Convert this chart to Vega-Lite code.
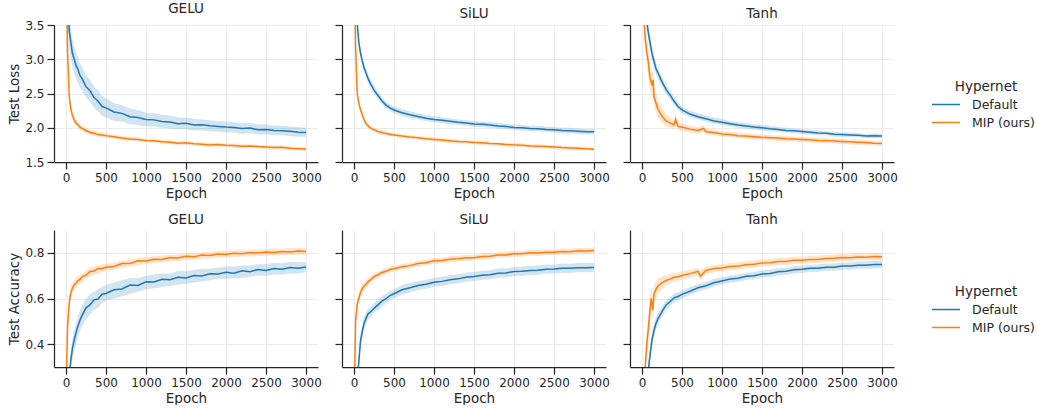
{
"$schema":"https://vega.github.io/schema/vega-lite/v6.json",
"padding":{"left":7,"top":1,"right":0,"bottom":0},
"background":"white",
"config":{
 "view":{"stroke":null},
 "font":"DejaVu Sans",
 "title":{"font":"DejaVu Sans","fontSize":13.5,"fontWeight":"normal","color":"#262626","offset":4},
 "axis":{"labelFont":"DejaVu Sans","titleFont":"DejaVu Sans","labelFontSize":12,"titleFontSize":13.5,"titleFontWeight":"normal","labelColor":"#262626","titleColor":"#262626","domainColor":"#262626","tickColor":"#262626","domainWidth":1.25,"tickWidth":1.25,"tickSize":7,"labelPadding":3,"titlePadding":3,"gridColor":"#ebebeb","gridWidth":1},
 "legend":{"titleFont":"DejaVu Sans","labelFont":"DejaVu Sans","titleFontSize":13.5,"titleFontWeight":"normal","labelFontSize":12.5,"titleColor":"#262626","labelColor":"#262626","symbolType":"M-2,0H2","symbolSize":196,"symbolStrokeWidth":1.5,"titleAnchor":"middle","labelOffset":18,"rowPadding":3,"titlePadding":3}
},
"datasets":{
"gl":[
{"h":"Default","e":0,"y":5.0,"l":4.7,"u":5.3},{"h":"Default","e":20,"y":3.9,"l":3.6,"u":4.2},{"h":"Default","e":40,"y":3.42,"l":3.15,"u":3.66},{"h":"Default","e":60,"y":3.25,"l":3.02,"u":3.47},{"h":"Default","e":80,"y":3.09,"l":2.88,"u":3.3},{"h":"Default","e":100,"y":3.01,"l":2.81,"u":3.2},{"h":"Default","e":125,"y":2.91,"l":2.72,"u":3.1},{"h":"Default","e":150,"y":2.85,"l":2.66,"u":3.04},{"h":"Default","e":175,"y":2.76,"l":2.58,"u":2.94},{"h":"Default","e":200,"y":2.72,"l":2.54,"u":2.9},{"h":"Default","e":250,"y":2.6,"l":2.44,"u":2.77},{"h":"Default","e":300,"y":2.54,"l":2.38,"u":2.7},{"h":"Default","e":350,"y":2.44,"l":2.29,"u":2.6},{"h":"Default","e":400,"y":2.39,"l":2.24,"u":2.55},{"h":"Default","e":450,"y":2.31,"l":2.17,"u":2.46},{"h":"Default","e":500,"y":2.29,"l":2.15,"u":2.43},{"h":"Default","e":600,"y":2.23,"l":2.1,"u":2.36},{"h":"Default","e":700,"y":2.21,"l":2.09,"u":2.33},{"h":"Default","e":800,"y":2.16,"l":2.05,"u":2.28},{"h":"Default","e":900,"y":2.15,"l":2.04,"u":2.26},{"h":"Default","e":1000,"y":2.12,"l":2.02,"u":2.22},{"h":"Default","e":1100,"y":2.115,"l":2.02,"u":2.21},{"h":"Default","e":1200,"y":2.09,"l":2.0,"u":2.19},{"h":"Default","e":1300,"y":2.085,"l":1.99,"u":2.18},{"h":"Default","e":1400,"y":2.06,"l":1.98,"u":2.15},{"h":"Default","e":1500,"y":2.065,"l":1.98,"u":2.15},{"h":"Default","e":1600,"y":2.04,"l":1.96,"u":2.13},{"h":"Default","e":1700,"y":2.045,"l":1.96,"u":2.12},{"h":"Default","e":1800,"y":2.03,"l":1.95,"u":2.11},{"h":"Default","e":1900,"y":2.02,"l":1.94,"u":2.1},{"h":"Default","e":2000,"y":2.01,"l":1.93,"u":2.09},{"h":"Default","e":2100,"y":2.005,"l":1.93,"u":2.08},{"h":"Default","e":2200,"y":1.99,"l":1.91,"u":2.07},{"h":"Default","e":2300,"y":1.995,"l":1.92,"u":2.07},{"h":"Default","e":2400,"y":1.97,"l":1.9,"u":2.05},{"h":"Default","e":2500,"y":1.975,"l":1.9,"u":2.05},{"h":"Default","e":2600,"y":1.96,"l":1.89,"u":2.03},{"h":"Default","e":2700,"y":1.955,"l":1.89,"u":2.03},{"h":"Default","e":2800,"y":1.95,"l":1.88,"u":2.02},{"h":"Default","e":2900,"y":1.935,"l":1.87,"u":2.01},{"h":"Default","e":3000,"y":1.93,"l":1.87,"u":2.0},
{"h":"MIP (ours)","e":0,"y":4.5,"l":4.4,"u":4.6},{"h":"MIP (ours)","e":20,"y":3.1,"l":3.0,"u":3.2},{"h":"MIP (ours)","e":40,"y":2.46,"l":2.38,"u":2.54},{"h":"MIP (ours)","e":60,"y":2.28,"l":2.22,"u":2.35},{"h":"MIP (ours)","e":80,"y":2.18,"l":2.13,"u":2.24},{"h":"MIP (ours)","e":100,"y":2.12,"l":2.07,"u":2.17},{"h":"MIP (ours)","e":125,"y":2.07,"l":2.03,"u":2.12},{"h":"MIP (ours)","e":150,"y":2.04,"l":2.0,"u":2.09},{"h":"MIP (ours)","e":175,"y":2.01,"l":1.97,"u":2.05},{"h":"MIP (ours)","e":200,"y":1.99,"l":1.95,"u":2.03},{"h":"MIP (ours)","e":250,"y":1.96,"l":1.92,"u":2.0},{"h":"MIP (ours)","e":300,"y":1.935,"l":1.9,"u":1.97},{"h":"MIP (ours)","e":350,"y":1.92,"l":1.88,"u":1.96},{"h":"MIP (ours)","e":400,"y":1.9,"l":1.87,"u":1.94},{"h":"MIP (ours)","e":450,"y":1.895,"l":1.86,"u":1.93},{"h":"MIP (ours)","e":500,"y":1.885,"l":1.85,"u":1.92},{"h":"MIP (ours)","e":600,"y":1.87,"l":1.84,"u":1.9},{"h":"MIP (ours)","e":700,"y":1.85,"l":1.82,"u":1.88},{"h":"MIP (ours)","e":800,"y":1.835,"l":1.81,"u":1.87},{"h":"MIP (ours)","e":900,"y":1.83,"l":1.8,"u":1.86},{"h":"MIP (ours)","e":1000,"y":1.815,"l":1.79,"u":1.84},{"h":"MIP (ours)","e":1100,"y":1.81,"l":1.78,"u":1.84},{"h":"MIP (ours)","e":1200,"y":1.795,"l":1.77,"u":1.82},{"h":"MIP (ours)","e":1300,"y":1.79,"l":1.76,"u":1.82},{"h":"MIP (ours)","e":1400,"y":1.775,"l":1.75,"u":1.8},{"h":"MIP (ours)","e":1500,"y":1.78,"l":1.75,"u":1.81},{"h":"MIP (ours)","e":1600,"y":1.765,"l":1.74,"u":1.79},{"h":"MIP (ours)","e":1700,"y":1.76,"l":1.73,"u":1.79},{"h":"MIP (ours)","e":1800,"y":1.75,"l":1.72,"u":1.78},{"h":"MIP (ours)","e":1900,"y":1.755,"l":1.73,"u":1.78},{"h":"MIP (ours)","e":2000,"y":1.745,"l":1.72,"u":1.77},{"h":"MIP (ours)","e":2100,"y":1.74,"l":1.71,"u":1.77},{"h":"MIP (ours)","e":2200,"y":1.73,"l":1.7,"u":1.76},{"h":"MIP (ours)","e":2300,"y":1.735,"l":1.71,"u":1.76},{"h":"MIP (ours)","e":2400,"y":1.725,"l":1.7,"u":1.75},{"h":"MIP (ours)","e":2500,"y":1.72,"l":1.69,"u":1.75},{"h":"MIP (ours)","e":2600,"y":1.71,"l":1.68,"u":1.74},{"h":"MIP (ours)","e":2700,"y":1.715,"l":1.69,"u":1.74},{"h":"MIP (ours)","e":2800,"y":1.7,"l":1.67,"u":1.73},{"h":"MIP (ours)","e":2900,"y":1.695,"l":1.67,"u":1.72},{"h":"MIP (ours)","e":3000,"y":1.69,"l":1.66,"u":1.72}
],
"sl":[
{"h":"Default","e":0,"y":5.0,"l":4.9,"u":5.1},{"h":"Default","e":20,"y":4.2,"l":4.1,"u":4.3},{"h":"Default","e":40,"y":3.52,"l":3.45,"u":3.6},{"h":"Default","e":60,"y":3.25,"l":3.18,"u":3.32},{"h":"Default","e":80,"y":3.1,"l":3.03,"u":3.17},{"h":"Default","e":100,"y":2.99,"l":2.93,"u":3.06},{"h":"Default","e":125,"y":2.88,"l":2.82,"u":2.95},{"h":"Default","e":150,"y":2.8,"l":2.74,"u":2.86},{"h":"Default","e":175,"y":2.72,"l":2.66,"u":2.78},{"h":"Default","e":200,"y":2.66,"l":2.6,"u":2.72},{"h":"Default","e":250,"y":2.55,"l":2.5,"u":2.61},{"h":"Default","e":300,"y":2.47,"l":2.42,"u":2.53},{"h":"Default","e":350,"y":2.39,"l":2.34,"u":2.45},{"h":"Default","e":400,"y":2.33,"l":2.28,"u":2.38},{"h":"Default","e":450,"y":2.29,"l":2.24,"u":2.34},{"h":"Default","e":500,"y":2.26,"l":2.21,"u":2.31},{"h":"Default","e":600,"y":2.22,"l":2.17,"u":2.27},{"h":"Default","e":700,"y":2.19,"l":2.14,"u":2.24},{"h":"Default","e":800,"y":2.165,"l":2.12,"u":2.21},{"h":"Default","e":900,"y":2.14,"l":2.1,"u":2.19},{"h":"Default","e":1000,"y":2.12,"l":2.08,"u":2.17},{"h":"Default","e":1100,"y":2.11,"l":2.07,"u":2.15},{"h":"Default","e":1200,"y":2.095,"l":2.05,"u":2.14},{"h":"Default","e":1300,"y":2.08,"l":2.04,"u":2.12},{"h":"Default","e":1400,"y":2.07,"l":2.03,"u":2.11},{"h":"Default","e":1500,"y":2.055,"l":2.01,"u":2.1},{"h":"Default","e":1600,"y":2.05,"l":2.01,"u":2.09},{"h":"Default","e":1700,"y":2.04,"l":2.0,"u":2.08},{"h":"Default","e":1800,"y":2.025,"l":1.99,"u":2.07},{"h":"Default","e":1900,"y":2.02,"l":1.98,"u":2.06},{"h":"Default","e":2000,"y":2.005,"l":1.97,"u":2.05},{"h":"Default","e":2100,"y":2.0,"l":1.96,"u":2.04},{"h":"Default","e":2200,"y":1.99,"l":1.95,"u":2.03},{"h":"Default","e":2300,"y":1.985,"l":1.95,"u":2.03},{"h":"Default","e":2400,"y":1.975,"l":1.94,"u":2.02},{"h":"Default","e":2500,"y":1.97,"l":1.93,"u":2.01},{"h":"Default","e":2600,"y":1.96,"l":1.92,"u":2.0},{"h":"Default","e":2700,"y":1.955,"l":1.92,"u":2.0},{"h":"Default","e":2800,"y":1.95,"l":1.91,"u":1.99},{"h":"Default","e":2900,"y":1.94,"l":1.9,"u":1.98},{"h":"Default","e":3000,"y":1.94,"l":1.9,"u":1.98},
{"h":"MIP (ours)","e":0,"y":4.6,"l":4.5,"u":4.7},{"h":"MIP (ours)","e":20,"y":3.2,"l":3.1,"u":3.3},{"h":"MIP (ours)","e":40,"y":2.5,"l":2.44,"u":2.56},{"h":"MIP (ours)","e":60,"y":2.36,"l":2.31,"u":2.41},{"h":"MIP (ours)","e":80,"y":2.27,"l":2.22,"u":2.32},{"h":"MIP (ours)","e":100,"y":2.2,"l":2.16,"u":2.25},{"h":"MIP (ours)","e":125,"y":2.12,"l":2.08,"u":2.16},{"h":"MIP (ours)","e":150,"y":2.06,"l":2.02,"u":2.1},{"h":"MIP (ours)","e":175,"y":2.03,"l":1.99,"u":2.07},{"h":"MIP (ours)","e":200,"y":2.0,"l":1.97,"u":2.04},{"h":"MIP (ours)","e":250,"y":1.97,"l":1.94,"u":2.0},{"h":"MIP (ours)","e":300,"y":1.945,"l":1.91,"u":1.98},{"h":"MIP (ours)","e":350,"y":1.93,"l":1.9,"u":1.96},{"h":"MIP (ours)","e":400,"y":1.915,"l":1.89,"u":1.95},{"h":"MIP (ours)","e":450,"y":1.905,"l":1.88,"u":1.93},{"h":"MIP (ours)","e":500,"y":1.895,"l":1.87,"u":1.92},{"h":"MIP (ours)","e":600,"y":1.88,"l":1.85,"u":1.91},{"h":"MIP (ours)","e":700,"y":1.865,"l":1.84,"u":1.89},{"h":"MIP (ours)","e":800,"y":1.855,"l":1.83,"u":1.88},{"h":"MIP (ours)","e":900,"y":1.84,"l":1.81,"u":1.87},{"h":"MIP (ours)","e":1000,"y":1.83,"l":1.8,"u":1.86},{"h":"MIP (ours)","e":1100,"y":1.82,"l":1.79,"u":1.85},{"h":"MIP (ours)","e":1200,"y":1.81,"l":1.78,"u":1.84},{"h":"MIP (ours)","e":1300,"y":1.8,"l":1.77,"u":1.83},{"h":"MIP (ours)","e":1400,"y":1.795,"l":1.77,"u":1.82},{"h":"MIP (ours)","e":1500,"y":1.785,"l":1.76,"u":1.81},{"h":"MIP (ours)","e":1600,"y":1.78,"l":1.75,"u":1.81},{"h":"MIP (ours)","e":1700,"y":1.77,"l":1.74,"u":1.8},{"h":"MIP (ours)","e":1800,"y":1.765,"l":1.74,"u":1.79},{"h":"MIP (ours)","e":1900,"y":1.755,"l":1.73,"u":1.78},{"h":"MIP (ours)","e":2000,"y":1.75,"l":1.72,"u":1.78},{"h":"MIP (ours)","e":2100,"y":1.745,"l":1.72,"u":1.77},{"h":"MIP (ours)","e":2200,"y":1.735,"l":1.71,"u":1.76},{"h":"MIP (ours)","e":2300,"y":1.73,"l":1.7,"u":1.76},{"h":"MIP (ours)","e":2400,"y":1.725,"l":1.7,"u":1.75},{"h":"MIP (ours)","e":2500,"y":1.72,"l":1.69,"u":1.75},{"h":"MIP (ours)","e":2600,"y":1.71,"l":1.68,"u":1.74},{"h":"MIP (ours)","e":2700,"y":1.705,"l":1.68,"u":1.73},{"h":"MIP (ours)","e":2800,"y":1.7,"l":1.67,"u":1.73},{"h":"MIP (ours)","e":2900,"y":1.695,"l":1.67,"u":1.72},{"h":"MIP (ours)","e":3000,"y":1.685,"l":1.66,"u":1.71}
],
"tl":[
{"h":"Default","e":0,"y":5.0,"l":4.9,"u":5.1},{"h":"Default","e":20,"y":4.5,"l":4.4,"u":4.6},{"h":"Default","e":40,"y":3.9,"l":3.8,"u":4.0},{"h":"Default","e":60,"y":3.55,"l":3.45,"u":3.65},{"h":"Default","e":80,"y":3.38,"l":3.28,"u":3.48},{"h":"Default","e":100,"y":3.25,"l":3.15,"u":3.35},{"h":"Default","e":125,"y":3.08,"l":2.99,"u":3.18},{"h":"Default","e":150,"y":2.97,"l":2.88,"u":3.06},{"h":"Default","e":175,"y":2.86,"l":2.78,"u":2.95},{"h":"Default","e":200,"y":2.8,"l":2.72,"u":2.88},{"h":"Default","e":250,"y":2.67,"l":2.6,"u":2.74},{"h":"Default","e":300,"y":2.56,"l":2.49,"u":2.63},{"h":"Default","e":350,"y":2.48,"l":2.42,"u":2.55},{"h":"Default","e":400,"y":2.39,"l":2.33,"u":2.45},{"h":"Default","e":450,"y":2.31,"l":2.26,"u":2.37},{"h":"Default","e":500,"y":2.26,"l":2.21,"u":2.31},{"h":"Default","e":600,"y":2.2,"l":2.15,"u":2.25},{"h":"Default","e":700,"y":2.16,"l":2.12,"u":2.21},{"h":"Default","e":800,"y":2.13,"l":2.09,"u":2.18},{"h":"Default","e":900,"y":2.1,"l":2.06,"u":2.15},{"h":"Default","e":1000,"y":2.08,"l":2.04,"u":2.13},{"h":"Default","e":1100,"y":2.06,"l":2.02,"u":2.1},{"h":"Default","e":1200,"y":2.04,"l":2.0,"u":2.08},{"h":"Default","e":1300,"y":2.025,"l":1.99,"u":2.07},{"h":"Default","e":1400,"y":2.01,"l":1.97,"u":2.05},{"h":"Default","e":1500,"y":2.0,"l":1.96,"u":2.04},{"h":"Default","e":1600,"y":1.985,"l":1.95,"u":2.03},{"h":"Default","e":1700,"y":1.975,"l":1.94,"u":2.01},{"h":"Default","e":1800,"y":1.96,"l":1.93,"u":2.0},{"h":"Default","e":1900,"y":1.955,"l":1.92,"u":1.99},{"h":"Default","e":2000,"y":1.945,"l":1.91,"u":1.98},{"h":"Default","e":2100,"y":1.935,"l":1.9,"u":1.97},{"h":"Default","e":2200,"y":1.925,"l":1.89,"u":1.96},{"h":"Default","e":2300,"y":1.92,"l":1.89,"u":1.95},{"h":"Default","e":2400,"y":1.905,"l":1.87,"u":1.94},{"h":"Default","e":2500,"y":1.9,"l":1.87,"u":1.93},{"h":"Default","e":2600,"y":1.895,"l":1.86,"u":1.93},{"h":"Default","e":2700,"y":1.89,"l":1.86,"u":1.92},{"h":"Default","e":2800,"y":1.88,"l":1.85,"u":1.91},{"h":"Default","e":2900,"y":1.885,"l":1.85,"u":1.92},{"h":"Default","e":3000,"y":1.88,"l":1.85,"u":1.91},
{"h":"MIP (ours)","e":0,"y":5.0,"l":4.9,"u":5.1},{"h":"MIP (ours)","e":20,"y":3.7,"l":3.5,"u":3.9},{"h":"MIP (ours)","e":40,"y":3.3,"l":3.1,"u":3.5},{"h":"MIP (ours)","e":60,"y":3.1,"l":2.9,"u":3.3},{"h":"MIP (ours)","e":80,"y":2.95,"l":2.75,"u":3.15},{"h":"MIP (ours)","e":100,"y":2.72,"l":2.55,"u":2.9},{"h":"MIP (ours)","e":125,"y":2.62,"l":2.45,"u":2.8},{"h":"MIP (ours)","e":140,"y":2.7,"l":2.5,"u":2.9},{"h":"MIP (ours)","e":150,"y":2.45,"l":2.3,"u":2.62},{"h":"MIP (ours)","e":175,"y":2.36,"l":2.22,"u":2.5},{"h":"MIP (ours)","e":200,"y":2.27,"l":2.15,"u":2.4},{"h":"MIP (ours)","e":250,"y":2.17,"l":2.07,"u":2.28},{"h":"MIP (ours)","e":300,"y":2.1,"l":2.01,"u":2.2},{"h":"MIP (ours)","e":350,"y":2.07,"l":2.0,"u":2.15},{"h":"MIP (ours)","e":400,"y":2.04,"l":1.98,"u":2.11},{"h":"MIP (ours)","e":420,"y":2.12,"l":2.04,"u":2.2},{"h":"MIP (ours)","e":450,"y":2.02,"l":1.96,"u":2.08},{"h":"MIP (ours)","e":500,"y":2.01,"l":1.95,"u":2.07},{"h":"MIP (ours)","e":600,"y":1.98,"l":1.93,"u":2.03},{"h":"MIP (ours)","e":700,"y":1.96,"l":1.91,"u":2.01},{"h":"MIP (ours)","e":770,"y":1.99,"l":1.94,"u":2.04},{"h":"MIP (ours)","e":800,"y":1.94,"l":1.9,"u":1.99},{"h":"MIP (ours)","e":900,"y":1.93,"l":1.89,"u":1.97},{"h":"MIP (ours)","e":1000,"y":1.91,"l":1.87,"u":1.95},{"h":"MIP (ours)","e":1100,"y":1.9,"l":1.86,"u":1.94},{"h":"MIP (ours)","e":1200,"y":1.885,"l":1.85,"u":1.93},{"h":"MIP (ours)","e":1300,"y":1.88,"l":1.84,"u":1.92},{"h":"MIP (ours)","e":1400,"y":1.87,"l":1.83,"u":1.91},{"h":"MIP (ours)","e":1500,"y":1.86,"l":1.82,"u":1.9},{"h":"MIP (ours)","e":1600,"y":1.855,"l":1.82,"u":1.89},{"h":"MIP (ours)","e":1700,"y":1.85,"l":1.81,"u":1.89},{"h":"MIP (ours)","e":1800,"y":1.84,"l":1.8,"u":1.88},{"h":"MIP (ours)","e":1900,"y":1.835,"l":1.8,"u":1.87},{"h":"MIP (ours)","e":2000,"y":1.83,"l":1.79,"u":1.87},{"h":"MIP (ours)","e":2100,"y":1.825,"l":1.79,"u":1.86},{"h":"MIP (ours)","e":2200,"y":1.815,"l":1.78,"u":1.85},{"h":"MIP (ours)","e":2300,"y":1.81,"l":1.77,"u":1.85},{"h":"MIP (ours)","e":2400,"y":1.805,"l":1.77,"u":1.84},{"h":"MIP (ours)","e":2500,"y":1.8,"l":1.76,"u":1.84},{"h":"MIP (ours)","e":2600,"y":1.795,"l":1.76,"u":1.83},{"h":"MIP (ours)","e":2700,"y":1.79,"l":1.75,"u":1.83},{"h":"MIP (ours)","e":2800,"y":1.785,"l":1.75,"u":1.82},{"h":"MIP (ours)","e":2900,"y":1.775,"l":1.74,"u":1.81},{"h":"MIP (ours)","e":3000,"y":1.77,"l":1.74,"u":1.81}
],
"ga":[
{"h":"Default","e":0,"y":0.1,"l":0.08,"u":0.12},{"h":"Default","e":40,"y":0.25,"l":0.22,"u":0.28},{"h":"Default","e":60,"y":0.33,"l":0.29,"u":0.37},{"h":"Default","e":80,"y":0.38,"l":0.33,"u":0.42},{"h":"Default","e":100,"y":0.415,"l":0.37,"u":0.46},{"h":"Default","e":125,"y":0.45,"l":0.4,"u":0.49},{"h":"Default","e":150,"y":0.48,"l":0.43,"u":0.52},{"h":"Default","e":175,"y":0.505,"l":0.46,"u":0.55},{"h":"Default","e":200,"y":0.525,"l":0.48,"u":0.57},{"h":"Default","e":250,"y":0.559,"l":0.51,"u":0.6},{"h":"Default","e":300,"y":0.572,"l":0.53,"u":0.62},{"h":"Default","e":350,"y":0.594,"l":0.55,"u":0.63},{"h":"Default","e":400,"y":0.598,"l":0.56,"u":0.64},{"h":"Default","e":450,"y":0.619,"l":0.58,"u":0.65},{"h":"Default","e":500,"y":0.622,"l":0.59,"u":0.66},{"h":"Default","e":600,"y":0.638,"l":0.6,"u":0.67},{"h":"Default","e":700,"y":0.642,"l":0.61,"u":0.68},{"h":"Default","e":800,"y":0.659,"l":0.62,"u":0.69},{"h":"Default","e":900,"y":0.657,"l":0.63,"u":0.69},{"h":"Default","e":1000,"y":0.673,"l":0.64,"u":0.7},{"h":"Default","e":1100,"y":0.672,"l":0.645,"u":0.705},{"h":"Default","e":1200,"y":0.684,"l":0.65,"u":0.71},{"h":"Default","e":1300,"y":0.682,"l":0.655,"u":0.71},{"h":"Default","e":1400,"y":0.693,"l":0.66,"u":0.72},{"h":"Default","e":1500,"y":0.69,"l":0.665,"u":0.72},{"h":"Default","e":1600,"y":0.701,"l":0.67,"u":0.725},{"h":"Default","e":1700,"y":0.699,"l":0.675,"u":0.73},{"h":"Default","e":1800,"y":0.708,"l":0.68,"u":0.73},{"h":"Default","e":1900,"y":0.707,"l":0.685,"u":0.735},{"h":"Default","e":2000,"y":0.715,"l":0.685,"u":0.74},{"h":"Default","e":2100,"y":0.711,"l":0.69,"u":0.74},{"h":"Default","e":2200,"y":0.721,"l":0.69,"u":0.745},{"h":"Default","e":2300,"y":0.717,"l":0.695,"u":0.745},{"h":"Default","e":2400,"y":0.727,"l":0.7,"u":0.75},{"h":"Default","e":2500,"y":0.723,"l":0.7,"u":0.75},{"h":"Default","e":2600,"y":0.731,"l":0.705,"u":0.755},{"h":"Default","e":2700,"y":0.728,"l":0.705,"u":0.755},{"h":"Default","e":2800,"y":0.736,"l":0.71,"u":0.76},{"h":"Default","e":2900,"y":0.733,"l":0.71,"u":0.76},{"h":"Default","e":3000,"y":0.738,"l":0.715,"u":0.76},
{"h":"MIP (ours)","e":0,"y":0.2,"l":0.18,"u":0.22},{"h":"MIP (ours)","e":20,"y":0.48,"l":0.45,"u":0.51},{"h":"MIP (ours)","e":40,"y":0.58,"l":0.55,"u":0.61},{"h":"MIP (ours)","e":60,"y":0.625,"l":0.6,"u":0.65},{"h":"MIP (ours)","e":80,"y":0.645,"l":0.62,"u":0.67},{"h":"MIP (ours)","e":100,"y":0.658,"l":0.635,"u":0.68},{"h":"MIP (ours)","e":125,"y":0.668,"l":0.645,"u":0.69},{"h":"MIP (ours)","e":150,"y":0.679,"l":0.655,"u":0.7},{"h":"MIP (ours)","e":175,"y":0.683,"l":0.665,"u":0.705},{"h":"MIP (ours)","e":200,"y":0.695,"l":0.67,"u":0.71},{"h":"MIP (ours)","e":250,"y":0.703,"l":0.685,"u":0.725},{"h":"MIP (ours)","e":300,"y":0.718,"l":0.695,"u":0.735},{"h":"MIP (ours)","e":350,"y":0.72,"l":0.705,"u":0.74},{"h":"MIP (ours)","e":400,"y":0.731,"l":0.71,"u":0.745},{"h":"MIP (ours)","e":450,"y":0.73,"l":0.715,"u":0.75},{"h":"MIP (ours)","e":500,"y":0.737,"l":0.72,"u":0.752},{"h":"MIP (ours)","e":600,"y":0.74,"l":0.726,"u":0.758},{"h":"MIP (ours)","e":700,"y":0.753,"l":0.734,"u":0.766},{"h":"MIP (ours)","e":800,"y":0.753,"l":0.74,"u":0.77},{"h":"MIP (ours)","e":900,"y":0.765,"l":0.746,"u":0.778},{"h":"MIP (ours)","e":1000,"y":0.764,"l":0.75,"u":0.782},{"h":"MIP (ours)","e":1100,"y":0.772,"l":0.755,"u":0.785},{"h":"MIP (ours)","e":1200,"y":0.771,"l":0.758,"u":0.788},{"h":"MIP (ours)","e":1300,"y":0.779,"l":0.762,"u":0.792},{"h":"MIP (ours)","e":1400,"y":0.777,"l":0.764,"u":0.794},{"h":"MIP (ours)","e":1500,"y":0.785,"l":0.768,"u":0.798},{"h":"MIP (ours)","e":1600,"y":0.783,"l":0.77,"u":0.8},{"h":"MIP (ours)","e":1700,"y":0.79,"l":0.773,"u":0.803},{"h":"MIP (ours)","e":1800,"y":0.788,"l":0.775,"u":0.805},{"h":"MIP (ours)","e":1900,"y":0.795,"l":0.778,"u":0.808},{"h":"MIP (ours)","e":2000,"y":0.793,"l":0.78,"u":0.81},{"h":"MIP (ours)","e":2100,"y":0.798,"l":0.781,"u":0.811},{"h":"MIP (ours)","e":2200,"y":0.796,"l":0.783,"u":0.813},{"h":"MIP (ours)","e":2300,"y":0.801,"l":0.784,"u":0.814},{"h":"MIP (ours)","e":2400,"y":0.799,"l":0.786,"u":0.816},{"h":"MIP (ours)","e":2500,"y":0.804,"l":0.787,"u":0.817},{"h":"MIP (ours)","e":2600,"y":0.801,"l":0.788,"u":0.818},{"h":"MIP (ours)","e":2700,"y":0.806,"l":0.789,"u":0.819},{"h":"MIP (ours)","e":2800,"y":0.804,"l":0.791,"u":0.821},{"h":"MIP (ours)","e":2900,"y":0.808,"l":0.791,"u":0.821},{"h":"MIP (ours)","e":3000,"y":0.806,"l":0.792,"u":0.822}
],
"sa":[
{"h":"Default","e":0,"y":0.1,"l":0.08,"u":0.12},{"h":"Default","e":40,"y":0.25,"l":0.22,"u":0.28},{"h":"Default","e":60,"y":0.32,"l":0.29,"u":0.35},{"h":"Default","e":80,"y":0.41,"l":0.38,"u":0.44},{"h":"Default","e":100,"y":0.45,"l":0.42,"u":0.48},{"h":"Default","e":125,"y":0.49,"l":0.46,"u":0.52},{"h":"Default","e":150,"y":0.513,"l":0.488,"u":0.538},{"h":"Default","e":175,"y":0.532,"l":0.507,"u":0.557},{"h":"Default","e":200,"y":0.539,"l":0.515,"u":0.563},{"h":"Default","e":250,"y":0.557,"l":0.535,"u":0.579},{"h":"Default","e":300,"y":0.572,"l":0.55,"u":0.594},{"h":"Default","e":350,"y":0.589,"l":0.567,"u":0.611},{"h":"Default","e":400,"y":0.599,"l":0.578,"u":0.62},{"h":"Default","e":450,"y":0.613,"l":0.592,"u":0.634},{"h":"Default","e":500,"y":0.621,"l":0.6,"u":0.642},{"h":"Default","e":600,"y":0.638,"l":0.617,"u":0.659},{"h":"Default","e":700,"y":0.647,"l":0.626,"u":0.668},{"h":"Default","e":800,"y":0.657,"l":0.637,"u":0.677},{"h":"Default","e":900,"y":0.662,"l":0.642,"u":0.682},{"h":"Default","e":1000,"y":0.671,"l":0.651,"u":0.691},{"h":"Default","e":1100,"y":0.675,"l":0.655,"u":0.695},{"h":"Default","e":1200,"y":0.682,"l":0.662,"u":0.702},{"h":"Default","e":1300,"y":0.686,"l":0.666,"u":0.706},{"h":"Default","e":1400,"y":0.693,"l":0.673,"u":0.713},{"h":"Default","e":1500,"y":0.696,"l":0.676,"u":0.716},{"h":"Default","e":1600,"y":0.702,"l":0.682,"u":0.722},{"h":"Default","e":1700,"y":0.704,"l":0.684,"u":0.724},{"h":"Default","e":1800,"y":0.711,"l":0.691,"u":0.731},{"h":"Default","e":1900,"y":0.712,"l":0.692,"u":0.732},{"h":"Default","e":2000,"y":0.718,"l":0.698,"u":0.738},{"h":"Default","e":2100,"y":0.719,"l":0.699,"u":0.739},{"h":"Default","e":2200,"y":0.723,"l":0.703,"u":0.743},{"h":"Default","e":2300,"y":0.724,"l":0.704,"u":0.744},{"h":"Default","e":2400,"y":0.728,"l":0.708,"u":0.748},{"h":"Default","e":2500,"y":0.729,"l":0.709,"u":0.749},{"h":"Default","e":2600,"y":0.732,"l":0.712,"u":0.752},{"h":"Default","e":2700,"y":0.732,"l":0.712,"u":0.752},{"h":"Default","e":2800,"y":0.735,"l":0.715,"u":0.755},{"h":"Default","e":2900,"y":0.735,"l":0.715,"u":0.755},{"h":"Default","e":3000,"y":0.736,"l":0.716,"u":0.756},
{"h":"MIP (ours)","e":0,"y":0.1,"l":0.08,"u":0.12},{"h":"MIP (ours)","e":20,"y":0.5,"l":0.47,"u":0.53},{"h":"MIP (ours)","e":40,"y":0.575,"l":0.55,"u":0.6},{"h":"MIP (ours)","e":60,"y":0.6,"l":0.58,"u":0.62},{"h":"MIP (ours)","e":80,"y":0.625,"l":0.605,"u":0.645},{"h":"MIP (ours)","e":100,"y":0.64,"l":0.62,"u":0.66},{"h":"MIP (ours)","e":125,"y":0.655,"l":0.637,"u":0.673},{"h":"MIP (ours)","e":150,"y":0.662,"l":0.645,"u":0.68},{"h":"MIP (ours)","e":175,"y":0.673,"l":0.657,"u":0.689},{"h":"MIP (ours)","e":200,"y":0.68,"l":0.665,"u":0.696},{"h":"MIP (ours)","e":250,"y":0.696,"l":0.682,"u":0.71},{"h":"MIP (ours)","e":300,"y":0.704,"l":0.69,"u":0.718},{"h":"MIP (ours)","e":350,"y":0.714,"l":0.7,"u":0.728},{"h":"MIP (ours)","e":400,"y":0.719,"l":0.706,"u":0.732},{"h":"MIP (ours)","e":450,"y":0.727,"l":0.714,"u":0.74},{"h":"MIP (ours)","e":500,"y":0.73,"l":0.717,"u":0.743},{"h":"MIP (ours)","e":600,"y":0.739,"l":0.726,"u":0.752},{"h":"MIP (ours)","e":700,"y":0.744,"l":0.731,"u":0.757},{"h":"MIP (ours)","e":800,"y":0.753,"l":0.74,"u":0.766},{"h":"MIP (ours)","e":900,"y":0.757,"l":0.744,"u":0.77},{"h":"MIP (ours)","e":1000,"y":0.765,"l":0.752,"u":0.778},{"h":"MIP (ours)","e":1100,"y":0.766,"l":0.753,"u":0.779},{"h":"MIP (ours)","e":1200,"y":0.772,"l":0.759,"u":0.785},{"h":"MIP (ours)","e":1300,"y":0.774,"l":0.761,"u":0.787},{"h":"MIP (ours)","e":1400,"y":0.778,"l":0.765,"u":0.791},{"h":"MIP (ours)","e":1500,"y":0.779,"l":0.766,"u":0.792},{"h":"MIP (ours)","e":1600,"y":0.784,"l":0.771,"u":0.797},{"h":"MIP (ours)","e":1700,"y":0.785,"l":0.772,"u":0.798},{"h":"MIP (ours)","e":1800,"y":0.79,"l":0.777,"u":0.803},{"h":"MIP (ours)","e":1900,"y":0.791,"l":0.778,"u":0.804},{"h":"MIP (ours)","e":2000,"y":0.796,"l":0.783,"u":0.809},{"h":"MIP (ours)","e":2100,"y":0.796,"l":0.783,"u":0.809},{"h":"MIP (ours)","e":2200,"y":0.8,"l":0.787,"u":0.813},{"h":"MIP (ours)","e":2300,"y":0.799,"l":0.786,"u":0.812},{"h":"MIP (ours)","e":2400,"y":0.803,"l":0.79,"u":0.816},{"h":"MIP (ours)","e":2500,"y":0.803,"l":0.79,"u":0.816},{"h":"MIP (ours)","e":2600,"y":0.806,"l":0.793,"u":0.819},{"h":"MIP (ours)","e":2700,"y":0.805,"l":0.792,"u":0.818},{"h":"MIP (ours)","e":2800,"y":0.809,"l":0.796,"u":0.822},{"h":"MIP (ours)","e":2900,"y":0.808,"l":0.795,"u":0.821},{"h":"MIP (ours)","e":3000,"y":0.81,"l":0.797,"u":0.823}
],
"ta":[
{"h":"Default","e":0,"y":0.05,"l":0.03,"u":0.07},{"h":"Default","e":60,"y":0.2,"l":0.17,"u":0.23},{"h":"Default","e":80,"y":0.29,"l":0.26,"u":0.32},{"h":"Default","e":100,"y":0.35,"l":0.32,"u":0.38},{"h":"Default","e":125,"y":0.42,"l":0.39,"u":0.45},{"h":"Default","e":150,"y":0.46,"l":0.43,"u":0.49},{"h":"Default","e":175,"y":0.49,"l":0.465,"u":0.515},{"h":"Default","e":200,"y":0.512,"l":0.487,"u":0.537},{"h":"Default","e":250,"y":0.543,"l":0.52,"u":0.566},{"h":"Default","e":300,"y":0.571,"l":0.55,"u":0.592},{"h":"Default","e":350,"y":0.586,"l":0.566,"u":0.606},{"h":"Default","e":400,"y":0.603,"l":0.584,"u":0.622},{"h":"Default","e":450,"y":0.609,"l":0.591,"u":0.627},{"h":"Default","e":500,"y":0.618,"l":0.6,"u":0.636},{"h":"Default","e":600,"y":0.632,"l":0.615,"u":0.649},{"h":"Default","e":700,"y":0.647,"l":0.63,"u":0.664},{"h":"Default","e":800,"y":0.656,"l":0.64,"u":0.672},{"h":"Default","e":900,"y":0.669,"l":0.653,"u":0.685},{"h":"Default","e":1000,"y":0.677,"l":0.661,"u":0.693},{"h":"Default","e":1100,"y":0.685,"l":0.669,"u":0.701},{"h":"Default","e":1200,"y":0.689,"l":0.673,"u":0.705},{"h":"Default","e":1300,"y":0.697,"l":0.681,"u":0.713},{"h":"Default","e":1400,"y":0.7,"l":0.684,"u":0.716},{"h":"Default","e":1500,"y":0.707,"l":0.691,"u":0.723},{"h":"Default","e":1600,"y":0.71,"l":0.694,"u":0.726},{"h":"Default","e":1700,"y":0.717,"l":0.701,"u":0.733},{"h":"Default","e":1800,"y":0.719,"l":0.703,"u":0.735},{"h":"Default","e":1900,"y":0.726,"l":0.71,"u":0.742},{"h":"Default","e":2000,"y":0.728,"l":0.712,"u":0.744},{"h":"Default","e":2100,"y":0.732,"l":0.716,"u":0.748},{"h":"Default","e":2200,"y":0.733,"l":0.717,"u":0.749},{"h":"Default","e":2300,"y":0.737,"l":0.721,"u":0.753},{"h":"Default","e":2400,"y":0.737,"l":0.721,"u":0.753},{"h":"Default","e":2500,"y":0.742,"l":0.726,"u":0.758},{"h":"Default","e":2600,"y":0.742,"l":0.726,"u":0.758},{"h":"Default","e":2700,"y":0.746,"l":0.73,"u":0.762},{"h":"Default","e":2800,"y":0.746,"l":0.73,"u":0.762},{"h":"Default","e":2900,"y":0.749,"l":0.733,"u":0.765},{"h":"Default","e":3000,"y":0.749,"l":0.733,"u":0.765},
{"h":"MIP (ours)","e":0,"y":0.05,"l":0.03,"u":0.07},{"h":"MIP (ours)","e":40,"y":0.3,"l":0.25,"u":0.35},{"h":"MIP (ours)","e":60,"y":0.4,"l":0.34,"u":0.46},{"h":"MIP (ours)","e":80,"y":0.47,"l":0.41,"u":0.53},{"h":"MIP (ours)","e":100,"y":0.55,"l":0.49,"u":0.61},{"h":"MIP (ours)","e":115,"y":0.6,"l":0.55,"u":0.65},{"h":"MIP (ours)","e":135,"y":0.55,"l":0.49,"u":0.61},{"h":"MIP (ours)","e":150,"y":0.62,"l":0.58,"u":0.66},{"h":"MIP (ours)","e":175,"y":0.64,"l":0.6,"u":0.675},{"h":"MIP (ours)","e":200,"y":0.655,"l":0.62,"u":0.69},{"h":"MIP (ours)","e":250,"y":0.668,"l":0.64,"u":0.695},{"h":"MIP (ours)","e":300,"y":0.679,"l":0.655,"u":0.703},{"h":"MIP (ours)","e":350,"y":0.685,"l":0.663,"u":0.707},{"h":"MIP (ours)","e":400,"y":0.693,"l":0.673,"u":0.713},{"h":"MIP (ours)","e":450,"y":0.695,"l":0.676,"u":0.714},{"h":"MIP (ours)","e":500,"y":0.701,"l":0.683,"u":0.719},{"h":"MIP (ours)","e":600,"y":0.709,"l":0.692,"u":0.726},{"h":"MIP (ours)","e":700,"y":0.719,"l":0.702,"u":0.736},{"h":"MIP (ours)","e":730,"y":0.698,"l":0.68,"u":0.725},{"h":"MIP (ours)","e":800,"y":0.723,"l":0.707,"u":0.739},{"h":"MIP (ours)","e":900,"y":0.731,"l":0.715,"u":0.747},{"h":"MIP (ours)","e":1000,"y":0.734,"l":0.718,"u":0.75},{"h":"MIP (ours)","e":1100,"y":0.74,"l":0.724,"u":0.756},{"h":"MIP (ours)","e":1200,"y":0.742,"l":0.726,"u":0.758},{"h":"MIP (ours)","e":1300,"y":0.748,"l":0.732,"u":0.764},{"h":"MIP (ours)","e":1400,"y":0.75,"l":0.734,"u":0.766},{"h":"MIP (ours)","e":1500,"y":0.756,"l":0.74,"u":0.772},{"h":"MIP (ours)","e":1600,"y":0.757,"l":0.741,"u":0.773},{"h":"MIP (ours)","e":1700,"y":0.762,"l":0.746,"u":0.778},{"h":"MIP (ours)","e":1800,"y":0.762,"l":0.746,"u":0.778},{"h":"MIP (ours)","e":1900,"y":0.767,"l":0.751,"u":0.783},{"h":"MIP (ours)","e":2000,"y":0.767,"l":0.751,"u":0.783},{"h":"MIP (ours)","e":2100,"y":0.771,"l":0.755,"u":0.787},{"h":"MIP (ours)","e":2200,"y":0.771,"l":0.755,"u":0.787},{"h":"MIP (ours)","e":2300,"y":0.775,"l":0.759,"u":0.791},{"h":"MIP (ours)","e":2400,"y":0.776,"l":0.76,"u":0.792},{"h":"MIP (ours)","e":2500,"y":0.78,"l":0.764,"u":0.796},{"h":"MIP (ours)","e":2600,"y":0.778,"l":0.762,"u":0.794},{"h":"MIP (ours)","e":2700,"y":0.782,"l":0.766,"u":0.798},{"h":"MIP (ours)","e":2800,"y":0.781,"l":0.765,"u":0.797},{"h":"MIP (ours)","e":2900,"y":0.784,"l":0.768,"u":0.8},{"h":"MIP (ours)","e":3000,"y":0.783,"l":0.767,"u":0.799}
]
},
"resolve":{"legend":{"color":"independent"}},
"spacing":12,
"vconcat":[
{"hconcat":[
 {"width":264,"height":137,"title":"GELU","data":{"name":"gl"},
  "encoding":{"x":{"field":"e","type":"quantitative","scale":{"domain":[-150,3150],"nice":false,"zero":false},"axis":{"values":[0,500,1000,1500,2000,2500,3000],"format":"d","title":"Epoch"}}},
  "layer":[
   {"mark":{"type":"area","opacity":0.2,"clip":true},"encoding":{"y":{"field":"l","type":"quantitative","scale":{"domain":[1.5,3.5],"nice":false,"zero":false},"axis":{"values":[1.5,2,2.5,3,3.5],"format":".1f","title":"Test Loss"}},"y2":{"field":"u"},"fill":{"field":"h","type":"nominal","scale":{"domain":["Default","MIP (ours)"],"range":["#1f77b4","#ff7f0e"]},"legend":null}}},
   {"mark":{"type":"line","strokeWidth":1.5,"clip":true},"encoding":{"y":{"field":"y","type":"quantitative","axis":{"values":[1.5,2,2.5,3,3.5],"format":".1f","title":"Test Loss"}},"color":{"field":"h","type":"nominal","scale":{"domain":["Default","MIP (ours)"],"range":["#1f77b4","#ff7f0e"]},"title":"Hypernet","legend":{"orient":"none","legendX":884,"legendY":55}}}}
  ]},
 {"width":264,"height":137,"title":"SiLU","data":{"name":"sl"},
  "encoding":{"x":{"field":"e","type":"quantitative","scale":{"domain":[-150,3150],"nice":false,"zero":false},"axis":{"values":[0,500,1000,1500,2000,2500,3000],"format":"d","title":"Epoch"}}},
  "layer":[
   {"mark":{"type":"area","opacity":0.2,"clip":true},"encoding":{"y":{"field":"l","type":"quantitative","scale":{"domain":[1.5,3.5],"nice":false,"zero":false},"axis":{"values":[1.5,2,2.5,3,3.5],"labels":false,"title":null}},"y2":{"field":"u"},"fill":{"field":"h","type":"nominal","scale":{"domain":["Default","MIP (ours)"],"range":["#1f77b4","#ff7f0e"]},"legend":null}}},
   {"mark":{"type":"line","strokeWidth":1.5,"clip":true},"encoding":{"y":{"field":"y","type":"quantitative","axis":{"values":[1.5,2,2.5,3,3.5],"labels":false,"title":null}},"color":{"field":"h","type":"nominal","scale":{"domain":["Default","MIP (ours)"],"range":["#1f77b4","#ff7f0e"]},"title":"Hypernet","legend":{"orient":"none","legendX":884,"legendY":55}}}}
  ]},
 {"width":264,"height":137,"title":"Tanh","data":{"name":"tl"},
  "encoding":{"x":{"field":"e","type":"quantitative","scale":{"domain":[-150,3150],"nice":false,"zero":false},"axis":{"values":[0,500,1000,1500,2000,2500,3000],"format":"d","title":"Epoch"}}},
  "layer":[
   {"mark":{"type":"area","opacity":0.2,"clip":true},"encoding":{"y":{"field":"l","type":"quantitative","scale":{"domain":[1.5,3.5],"nice":false,"zero":false},"axis":{"values":[1.5,2,2.5,3,3.5],"labels":false,"title":null}},"y2":{"field":"u"},"fill":{"field":"h","type":"nominal","scale":{"domain":["Default","MIP (ours)"],"range":["#1f77b4","#ff7f0e"]},"legend":null}}},
   {"mark":{"type":"line","strokeWidth":1.5,"clip":true},"encoding":{"y":{"field":"y","type":"quantitative","axis":{"values":[1.5,2,2.5,3,3.5],"labels":false,"title":null}},"color":{"field":"h","type":"nominal","scale":{"domain":["Default","MIP (ours)"],"range":["#1f77b4","#ff7f0e"]},"title":"Hypernet","legend":{"orient":"none","legendX":884,"legendY":55}}}}
  ]}
 ],"spacing":12},
{"hconcat":[
 {"width":264,"height":137,"title":"GELU","data":{"name":"ga"},
  "encoding":{"x":{"field":"e","type":"quantitative","scale":{"domain":[-150,3150],"nice":false,"zero":false},"axis":{"values":[0,500,1000,1500,2000,2500,3000],"format":"d","title":"Epoch"}}},
  "layer":[
   {"mark":{"type":"area","opacity":0.2,"clip":true},"encoding":{"y":{"field":"l","type":"quantitative","scale":{"domain":[0.3,0.9],"nice":false,"zero":false},"axis":{"values":[0.4,0.6,0.8],"format":".1f","title":"Test Accuracy"}},"y2":{"field":"u"},"fill":{"field":"h","type":"nominal","scale":{"domain":["Default","MIP (ours)"],"range":["#1f77b4","#ff7f0e"]},"legend":null}}},
   {"mark":{"type":"line","strokeWidth":1.5,"clip":true},"encoding":{"y":{"field":"y","type":"quantitative","axis":{"values":[0.4,0.6,0.8],"format":".1f","title":"Test Accuracy"}},"color":{"field":"h","type":"nominal","scale":{"domain":["Default","MIP (ours)"],"range":["#1f77b4","#ff7f0e"]},"title":"Hypernet","legend":{"orient":"none","legendX":884,"legendY":55}}}}
  ]},
 {"width":264,"height":137,"title":"SiLU","data":{"name":"sa"},
  "encoding":{"x":{"field":"e","type":"quantitative","scale":{"domain":[-150,3150],"nice":false,"zero":false},"axis":{"values":[0,500,1000,1500,2000,2500,3000],"format":"d","title":"Epoch"}}},
  "layer":[
   {"mark":{"type":"area","opacity":0.2,"clip":true},"encoding":{"y":{"field":"l","type":"quantitative","scale":{"domain":[0.3,0.9],"nice":false,"zero":false},"axis":{"values":[0.4,0.6,0.8],"labels":false,"title":null}},"y2":{"field":"u"},"fill":{"field":"h","type":"nominal","scale":{"domain":["Default","MIP (ours)"],"range":["#1f77b4","#ff7f0e"]},"legend":null}}},
   {"mark":{"type":"line","strokeWidth":1.5,"clip":true},"encoding":{"y":{"field":"y","type":"quantitative","axis":{"values":[0.4,0.6,0.8],"labels":false,"title":null}},"color":{"field":"h","type":"nominal","scale":{"domain":["Default","MIP (ours)"],"range":["#1f77b4","#ff7f0e"]},"title":"Hypernet","legend":{"orient":"none","legendX":884,"legendY":55}}}}
  ]},
 {"width":264,"height":137,"title":"Tanh","data":{"name":"ta"},
  "encoding":{"x":{"field":"e","type":"quantitative","scale":{"domain":[-150,3150],"nice":false,"zero":false},"axis":{"values":[0,500,1000,1500,2000,2500,3000],"format":"d","title":"Epoch"}}},
  "layer":[
   {"mark":{"type":"area","opacity":0.2,"clip":true},"encoding":{"y":{"field":"l","type":"quantitative","scale":{"domain":[0.3,0.9],"nice":false,"zero":false},"axis":{"values":[0.4,0.6,0.8],"labels":false,"title":null}},"y2":{"field":"u"},"fill":{"field":"h","type":"nominal","scale":{"domain":["Default","MIP (ours)"],"range":["#1f77b4","#ff7f0e"]},"legend":null}}},
   {"mark":{"type":"line","strokeWidth":1.5,"clip":true},"encoding":{"y":{"field":"y","type":"quantitative","axis":{"values":[0.4,0.6,0.8],"labels":false,"title":null}},"color":{"field":"h","type":"nominal","scale":{"domain":["Default","MIP (ours)"],"range":["#1f77b4","#ff7f0e"]},"title":"Hypernet","legend":{"orient":"none","legendX":884,"legendY":55}}}}
  ]}
 ],"spacing":12}
]
}
